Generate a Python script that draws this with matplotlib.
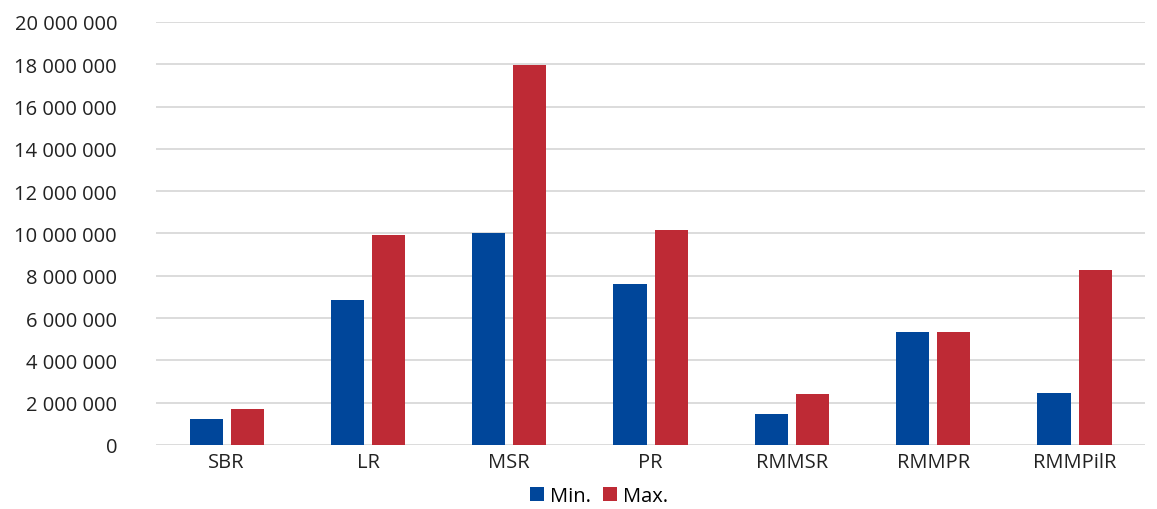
import matplotlib.pyplot as plt
import numpy as np
from matplotlib.ticker import FuncFormatter

# cost range per reactor type
categories = ["SBR", "LR", "MSR", "PR", "RMMSR", "RMMPR", "RMMPilR"]
min_vals = [1230000, 6870000, 10020000, 7620000, 1460000, 5350000, 2460000]
max_vals = [1700000, 9950000, 17980000, 10180000, 2410000, 5350000, 8270000]
series_names = ["Min.", "Max."]

BLUE = "#00469A"
RED = "#BE2A35"

plt.rcParams["font.family"] = ["Open Sans", "DejaVu Sans"]

fig = plt.figure(figsize=(11.57, 5.10), dpi=100)
ax = fig.add_axes([0.1348, 0.1255, 0.855, 0.8295])

x = np.arange(len(categories))
w = 0.234
gap = 0.057
ax.bar(x - (w + gap) / 2, min_vals, w, color=BLUE, label=series_names[0], zorder=3)
ax.bar(x + (w + gap) / 2, max_vals, w, color=RED, label=series_names[1], zorder=3)

ax.set_xlim(-0.5, len(categories) - 0.5)
ax.set_ylim(0, 20000000)
ax.set_yticks(np.arange(0, 20000001, 2000000))
ax.yaxis.set_major_formatter(FuncFormatter(lambda v, _: f"{int(v):,}".replace(",", " ")))
ax.set_xticks(x)
ax.set_xticklabels(categories)

ax.grid(axis="y", color="#D9D9D9", linewidth=1.3, zorder=0)
for s in ax.spines.values():
    s.set_visible(False)
ax.tick_params(axis="both", length=0, labelsize=14.5, colors="#222222")
ax.tick_params(axis="y", pad=28)
ax.tick_params(axis="x", pad=5)

ax.legend(loc="center", bbox_to_anchor=(0.448, -0.12), ncol=2, frameon=False,
          fontsize=14.5, handlelength=0.7, handleheight=0.7, handletextpad=0.3,
          columnspacing=0.6, borderpad=0)

fig.savefig("out.png", dpi=100, facecolor="white")
